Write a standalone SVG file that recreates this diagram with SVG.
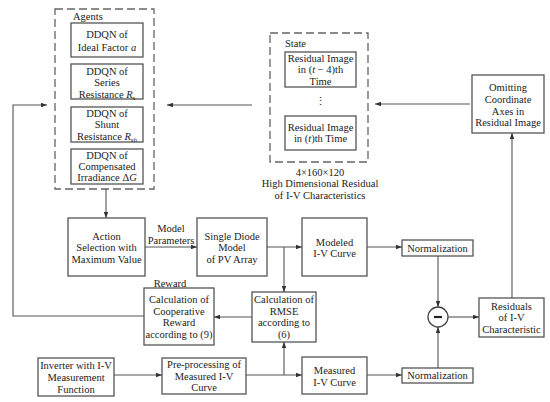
<svg xmlns="http://www.w3.org/2000/svg" width="550" height="402" viewBox="0 0 550 402" font-family="'Liberation Serif', 'Times New Roman', Times, serif">
<style>
text{font-family:'Liberation Serif','Times New Roman',Times,serif;font-size:10.5px;fill:#222;text-anchor:middle}
.l{text-anchor:start}
.b{fill:#fff;stroke:#555;stroke-width:1.3}
.d{fill:none;stroke:#666;stroke-width:1.3;stroke-dasharray:8,4}
.c{fill:none;stroke:#555;stroke-width:1.1}
.a{marker-end:url(#ah)}
</style>
<defs>
<marker id="ah" viewBox="0 0 8 6" refX="8" refY="3" markerWidth="6" markerHeight="4.5" orient="auto" markerUnits="userSpaceOnUse">
<path d="M0,0 L8,3 L0,6 z" fill="#333"/>
</marker>
</defs>
<rect width="550" height="402" fill="#fff"/>

<g id="agents">
<rect class="d" x="55" y="9" width="99" height="180"/>
<text class="l" x="73" y="20">Agents</text>
</g>
<g id="ddqn-a">
<rect class="b" x="71" y="23" width="72" height="34"/>
<text x="107" y="38">DDQN of</text>
<text x="107" y="51">Ideal Factor <tspan font-style="italic">a</tspan></text>
</g>
<g id="ddqn-rs">
<rect class="b" x="71" y="64" width="72" height="35"/>
<text x="107" y="75">DDQN of</text>
<text x="107" y="86">Series</text>
<text x="107" y="98">Resistance <tspan font-style="italic">R</tspan><tspan font-size="7" dy="2">s</tspan></text>
</g>
<g id="ddqn-rsh">
<rect class="b" x="71" y="107" width="72" height="35"/>
<text x="107" y="117">DDQN of</text>
<text x="107" y="128">Shunt</text>
<text x="107" y="140">Resistance <tspan font-style="italic">R</tspan><tspan font-size="7" font-style="italic" dy="2">sh</tspan></text>
</g>
<g id="ddqn-g">
<rect class="b" x="71" y="149" width="72" height="35"/>
<text x="107" y="159">DDQN of</text>
<text x="107" y="170">Compensated</text>
<text x="107" y="181">Irradiance Δ<tspan font-style="italic">G</tspan></text>
</g>

<g id="state">
<rect class="d" x="270" y="33" width="98" height="129"/>
<text class="l" x="285" y="47">State</text>
<text x="320" y="105">⋮</text>
<text x="320" y="176">4×160×120</text>
<text x="320" y="187">High Dimensional Residual</text>
<text x="320" y="199">of I-V Characteristics</text>
</g>
<g id="res-img-t4">
<rect class="b" x="285" y="52" width="71" height="35"/>
<text x="320.5" y="62">Residual Image</text>
<text x="320.5" y="73">in (<tspan font-style="italic">t</tspan> − 4)th</text>
<text x="320.5" y="85">Time</text>
</g>
<g id="res-img-t">
<rect class="b" x="285" y="116" width="71" height="34"/>
<text x="320.5" y="131">Residual Image</text>
<text x="320.5" y="142">in (<tspan font-style="italic">t</tspan>)th Time</text>
</g>

<g id="omitting">
<rect class="b" x="472" y="75" width="72" height="58"/>
<text x="508" y="91">Omitting</text>
<text x="508" y="103">Coordinate</text>
<text x="508" y="115">Axes in</text>
<text x="508" y="126">Residual Image</text>
</g>

<g id="action">
<rect class="b" x="68" y="218" width="77" height="58"/>
<text x="106.5" y="240">Action</text>
<text x="106.5" y="251">Selection with</text>
<text x="106.5" y="263">Maximum Value</text>
</g>
<g id="single-diode">
<rect class="b" x="197" y="218" width="70" height="58"/>
<text x="232" y="240">Single Diode</text>
<text x="232" y="251">Model</text>
<text x="232" y="263">of PV Array</text>
</g>
<g id="modeled">
<rect class="b" x="302" y="218" width="65" height="58"/>
<text x="334.5" y="246">Modeled</text>
<text x="334.5" y="257">I-V Curve</text>
</g>
<g id="norm-top">
<rect class="b" x="402" y="240" width="71" height="16"/>
<text x="437.5" y="252">Normalization</text>
</g>
<g id="coop-reward">
<rect class="b" x="144" y="288" width="70" height="57"/>
<text x="179" y="303">Calculation of</text>
<text x="179" y="315">Cooperative</text>
<text x="179" y="326">Reward</text>
<text x="179" y="338">according to (9)</text>
</g>
<g id="rmse">
<rect class="b" x="252" y="292" width="64" height="50"/>
<text x="284" y="303">Calculation of</text>
<text x="284" y="315">RMSE</text>
<text x="284" y="326">according to</text>
<text x="284" y="338">(6)</text>
</g>
<g id="minus">
<circle cx="438" cy="317" r="10" fill="#fff" stroke="#444" stroke-width="1.3"/>
<line x1="434" y1="317" x2="442" y2="317" stroke="#222" stroke-width="2.2"/>
</g>
<g id="residuals">
<rect class="b" x="479" y="298" width="65" height="39"/>
<text x="511.5" y="310">Residuals</text>
<text x="511.5" y="321">of I-V</text>
<text x="511.5" y="333">Characteristic</text>
</g>
<g id="inverter">
<rect class="b" x="38" y="358" width="76" height="38"/>
<text x="76" y="369">Inverter with I-V</text>
<text x="76" y="381">Measurement</text>
<text x="76" y="393">Function</text>
</g>
<g id="preprocessing">
<rect class="b" x="162" y="358" width="84" height="36"/>
<text x="204" y="368">Pre-processing of</text>
<text x="204" y="380">Measured I-V</text>
<text x="204" y="391">Curve</text>
</g>
<g id="measured">
<rect class="b" x="302" y="357" width="65" height="37"/>
<text x="334.5" y="374">Measured</text>
<text x="334.5" y="386">I-V Curve</text>
</g>
<g id="norm-bottom">
<rect class="b" x="402" y="368" width="71" height="15"/>
<text x="437.5" y="379">Normalization</text>
</g>

<g id="connectors">
<path class="c a" d="M106,189 V218"/>
<path class="c a" d="M145,247 H197"/>
<path class="c a" d="M267,247 H302"/>
<path class="c a" d="M284,247 V292"/>
<path class="c a" d="M367,247 H402"/>
<path class="c a" d="M438,256 V307"/>
<path class="c a" d="M438,368 V327"/>
<path class="c a" d="M448,317 H479"/>
<path class="c a" d="M512,298 V133"/>
<path class="c a" d="M470,104 H375"/>
<path class="c a" d="M252,105 H167"/>
<path class="c a" d="M252,317 H214"/>
<path class="c a" d="M144,316 H13 V105 H47"/>
<path class="c a" d="M114,375 H162"/>
<path class="c a" d="M246,375 H302"/>
<path class="c a" d="M284,375 V342"/>
<path class="c a" d="M367,375 H402"/>
<text x="171" y="232">Model</text>
<text x="171" y="244">Parameters</text>
<text x="170" y="287">Reward</text>
</g>
</svg>
